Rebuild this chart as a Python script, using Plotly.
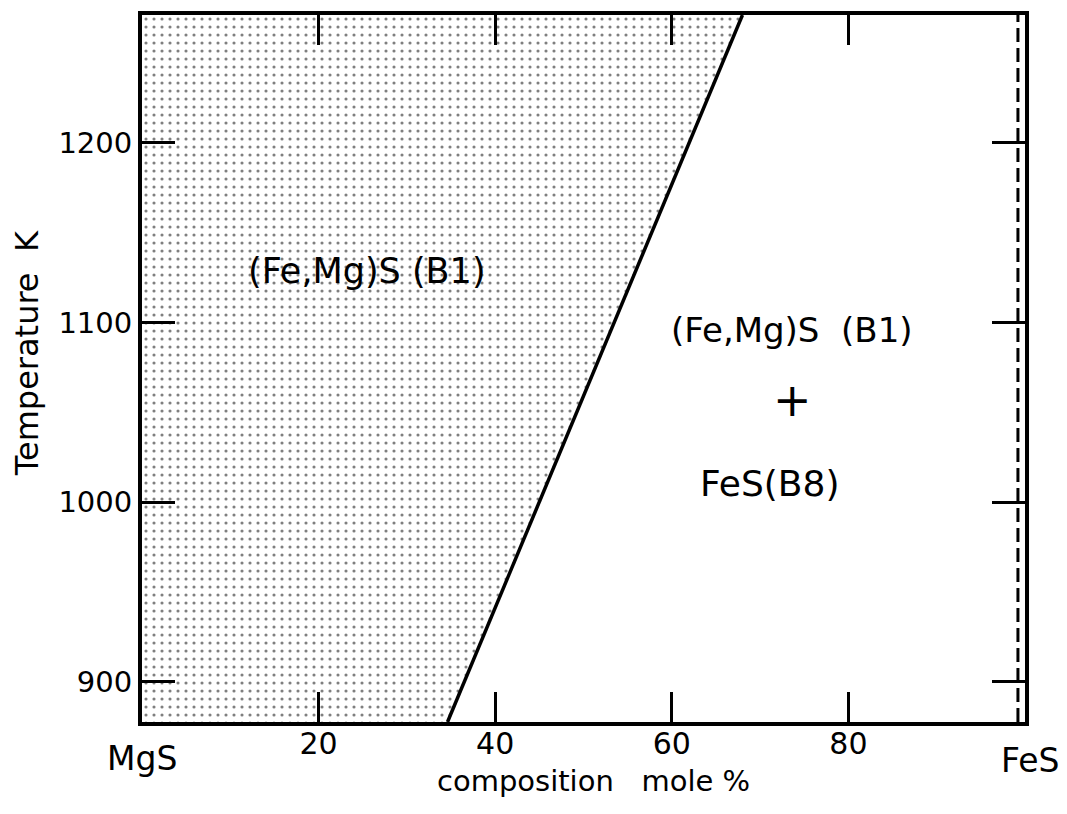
import plotly.graph_objects as go

# ---- data ----
x_range = [0, 100]                 # composition, mole % FeS (MgS -> FeS)
t_range = [877.7, 1271.2]          # temperature K (axis limits)
boundary_comp = [34.6, 68.0]       # solvus: composition at bottom / top of axis
boundary_temp = [877.7, 1271.2]
fes_line_comp = 99.2               # dashed FeS(B8) line
x_tickvals = [20, 40, 60, 80]
x_ticktext = ["20", "40", "60", "80"]
y_tickvals = [900, 1000, 1100, 1200]
y_ticktext = ["900", "1000", "1100", "1200"]

labels_text = ["(Fe,Mg)S (B1)", "(Fe,Mg)S\u00a0\u00a0(B1)", "+", "FeS(B8)"]
labels_x = [25.5, 73.6, 73.7, 71.1]
labels_y = [1128.7, 1095.8, 1056.9, 1010.7]
labels_size = [35, 34, 46, 36]

FONT = "DejaVu Sans"

fig = go.Figure()

# single-phase (B1) field, stippled
fig.add_trace(go.Scatter(
    x=[x_range[0], boundary_comp[0], boundary_comp[1], x_range[0]],
    y=[boundary_temp[0], boundary_temp[0], boundary_temp[1], boundary_temp[1]],
    mode="lines", fill="toself", line=dict(width=0, color="black"),
    fillcolor="rgba(0,0,0,0)",
    fillpattern=dict(shape=".", size=8, solidity=0.12, fgcolor="black",
                     bgcolor="rgba(0,0,0,0)"),
    hoverinfo="skip", showlegend=False))

# phase boundary
fig.add_trace(go.Scatter(
    x=boundary_comp, y=boundary_temp, mode="lines",
    line=dict(color="black", width=3.5), showlegend=False, hoverinfo="skip"))

# dashed FeS line
fig.add_trace(go.Scatter(
    x=[fes_line_comp, fes_line_comp], y=t_range, mode="lines",
    line=dict(color="black", width=3, dash="14px,6px"),
    showlegend=False, hoverinfo="skip"))

for t, xx, yy, s in zip(labels_text, labels_x, labels_y, labels_size):
    fig.add_annotation(x=xx, y=yy, xref="x", yref="y", text=t, showarrow=False,
                       font=dict(family=FONT, size=s, color="black"),
                       xanchor="center", yanchor="middle")

# end-member labels and axis titles
fig.add_annotation(x=0.0, y=-0.051, xref="paper", yref="paper", text="MgS",
                   showarrow=False, font=dict(family=FONT, size=33, color="black"),
                   xanchor="center", yanchor="middle")
fig.add_annotation(x=1.006, y=-0.055, xref="paper", yref="paper", text="FeS",
                   showarrow=False, font=dict(family=FONT, size=33, color="black"),
                   xanchor="center", yanchor="middle")
fig.add_annotation(x=0.511, y=-0.084, xref="paper", yref="paper",
                   text="composition\u00a0\u00a0\u00a0mole\u00a0%",
                   showarrow=False, font=dict(family=FONT, size=29, color="black"),
                   xanchor="center", yanchor="middle")
fig.add_annotation(x=-0.130, y=0.522, xref="paper", yref="paper",
                   text="Temperature\u00a0\u00a0K", textangle=-90,
                   showarrow=False, font=dict(family=FONT, size=32, color="black"),
                   xanchor="center", yanchor="middle")

fig.update_xaxes(range=x_range, tickvals=x_tickvals, ticktext=x_ticktext,
                 ticks="inside", ticklen=30, tickwidth=3, tickcolor="black",
                 showline=True, linewidth=4, linecolor="black", mirror="ticks",
                 showgrid=False, zeroline=False, ticklabelstandoff=-8,
                 tickfont=dict(family=FONT, size=30, color="black"))
fig.update_yaxes(range=t_range, tickvals=y_tickvals, ticktext=y_ticktext,
                 ticks="inside", ticklen=33, tickwidth=3, tickcolor="black",
                 showline=True, linewidth=4, linecolor="black", mirror="ticks",
                 showgrid=False, zeroline=False, ticklabelstandoff=0,
                 tickfont=dict(family=FONT, size=29, color="black"))

fig.update_layout(width=1067, height=814,
                  margin=dict(l=142, r=42, t=15, b=92),
                  plot_bgcolor="white", paper_bgcolor="white")

fig.write_html("out.html")
